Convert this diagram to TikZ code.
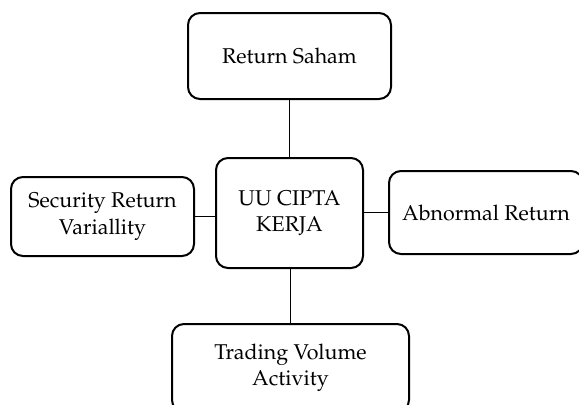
\documentclass[tikz,border=0pt]{standalone}
\usepackage[T1]{fontenc}
\usepackage{mathpazo}
\tikzset{
	box/.style={draw, line width=1pt, rounded corners=6pt, align=center, font=\fontsize{10.7}{13.2}\selectfont},
	link/.style={line width=0.5pt}
}
\begin{document}
\begin{tikzpicture}[x=0.5pt, y=-0.5pt]
		%%%%% START %%%%%
		
		\useasboundingbox (0, 0) rectangle (579, 404);
		
		\node[box, minimum width=101.5pt, minimum height=43pt] (saham) at (289.5, 56) {Return Saham};
		\node[box, minimum width=73.5pt, minimum height=55pt] (cipta) at (289.5, 213) {UU CIPTA\\KERJA};
		\node[box, minimum width=91.5pt, minimum height=39.5pt] (variasi) at (102.5, 216.5) {Security Return\\Variallity};
		\node[box, minimum width=97pt, minimum height=41.5pt] (abnormal) at (486, 212.5) {Abnormal Return};
		\node[box, minimum width=118.5pt, minimum height=44pt] (volume) at (290.5, 368) {Trading Volume\\Activity};
		
		\draw[link] (saham) -- (cipta);
		\draw[link] (cipta.south -| volume) -- (volume.north);
		\draw[link] (variasi.east) -- (cipta.west |- variasi.east);
		\draw[link] (cipta.east |- abnormal.west) -- (abnormal.west);
		
		%%%%% END %%%%%
	\end{tikzpicture}
\end{document}
